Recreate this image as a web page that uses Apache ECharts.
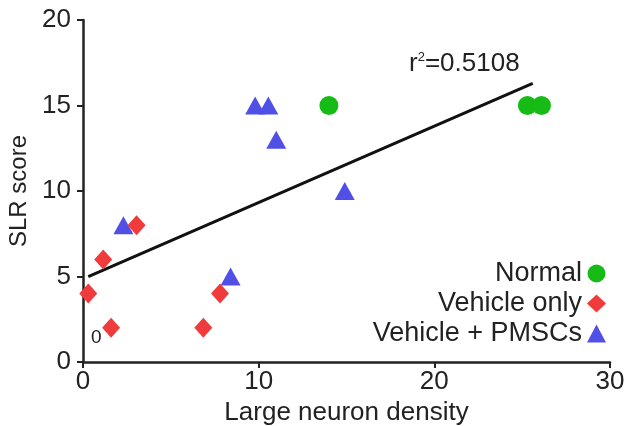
<!DOCTYPE html>
<html>
<head>
<meta charset="utf-8">
<script src="https://cdn.jsdelivr.net/npm/echarts@6/dist/echarts.min.js"></script>
<style>
html,body{margin:0;padding:0;background:#fff;}
#chart{width:625px;height:426px;}
</style>
</head>
<body>
<div id="chart"></div>
<script>
var xTicks = [0, 10, 20, 30];
var yTicks = [0, 5, 10, 15, 20];
var normalPts = [[14.0, 15], [25.3, 15], [26.1, 15]];
var vehicleOnlyPts = [[0.3, 4], [1.15, 6], [1.6, 2], [3.05, 8], [6.85, 2], [7.8, 4]];
var vehiclePmscPts = [[2.3, 8], [8.4, 5], [9.8, 15], [10.55, 15], [11.0, 13], [14.9, 10]];
var fitLine = [[0.3, 4.99], [25.6, 16.3]];
var seriesNames = ['Normal', 'Vehicle only', 'Vehicle + PMSCs'];
var r2Text = '0.5108';
var originText = '0';

var font = 'Liberation Sans, Arial, Helvetica, sans-serif';
var chart = echarts.init(document.getElementById('chart'), null, {renderer: 'canvas'});
chart.setOption({
  animation: false,
  backgroundColor: '#fff',
  grid: {left: 83, right: 15, top: 20, bottom: 64, containLabel: false, outerBoundsMode: 'none'},
  xAxis: {
    type: 'value', min: xTicks[0], max: xTicks[xTicks.length - 1], interval: 10,
    name: 'Large neuron density', nameLocation: 'middle', nameGap: 34,
    nameTextStyle: {fontFamily: font, fontSize: 26, color: '#222'},
    axisLine: {lineStyle: {color: '#222', width: 2.5}},
    axisTick: {length: 6, lineStyle: {color: '#222', width: 2}},
    axisLabel: {fontFamily: font, fontSize: 26, color: '#222', margin: 7},
    splitLine: {show: false}
  },
  yAxis: {
    type: 'value', min: yTicks[0], max: yTicks[yTicks.length - 1], interval: 5,
    name: 'SLR score', nameLocation: 'middle', nameGap: 51,
    nameTextStyle: {fontFamily: font, fontSize: 24, color: '#222'},
    axisLine: {show: true, lineStyle: {color: '#222', width: 2.5}},
    axisTick: {show: true, length: 6, lineStyle: {color: '#222', width: 2}},
    axisLabel: {fontFamily: font, fontSize: 26, color: '#222', margin: 12},
    splitLine: {show: false}
  },
  legend: {
    orient: 'vertical', right: 14, top: 255, align: 'right',
    itemWidth: 19, itemHeight: 18, itemGap: 3,
    textStyle: {fontFamily: font, fontSize: 27, color: '#222'},
    data: [
      {name: seriesNames[0], icon: 'circle'},
      {name: seriesNames[1], icon: 'diamond'},
      {name: seriesNames[2], icon: 'triangle'}
    ]
  },
  graphic: [
    {type: 'text', left: 91, top: 328, style: {text: originText, font: '19px ' + font, fill: '#222'}},
    {type: 'text', left: 409, top: 51, style: {
      text: '{a|r}{s|2}{a|=' + r2Text + '}',
      rich: {
        a: {fontFamily: font, fontSize: 26, fill: '#222', verticalAlign: 'bottom'},
        s: {fontFamily: font, fontSize: 13, fill: '#222', verticalAlign: 'top', padding: [0, 0, 11, 0]}
      }
    }}
  ],
  series: [
    {
      type: 'line', data: fitLine, symbol: 'none', silent: true, z: 1,
      lineStyle: {color: '#111', width: 3}
    },
    {
      name: seriesNames[0], type: 'scatter', data: normalPts, symbol: 'circle', symbolSize: 19, z: 3,
      itemStyle: {color: '#16bb16', opacity: 1}
    },
    {
      name: seriesNames[1], type: 'scatter', data: vehicleOnlyPts, symbol: 'diamond', symbolSize: [18, 20], z: 4,
      itemStyle: {color: '#ef3b3b', opacity: 1}
    },
    {
      name: seriesNames[2], type: 'scatter', data: vehiclePmscPts, symbol: 'triangle', symbolSize: [20, 18], z: 3,
      itemStyle: {color: '#5050e6', opacity: 1}
    }
  ]
});
</script>
</body>
</html>
